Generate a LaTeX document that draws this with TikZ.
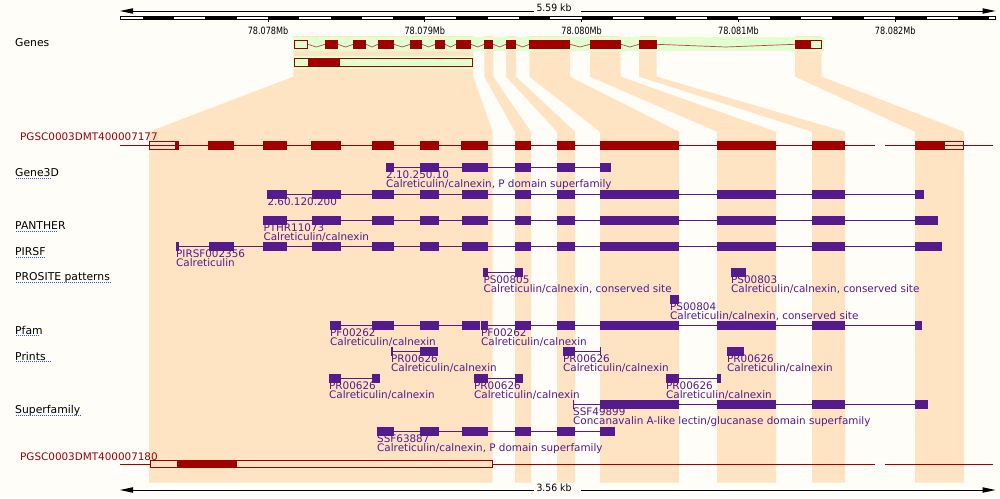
\documentclass[tikz,border=0pt]{standalone}
\usepackage{fontspec}
\usepackage{graphicx}
\setmainfont{DejaVu Sans}
\definecolor{bg}{RGB}{255,253,248}
\definecolor{peach}{RGB}{255,228,196}
\definecolor{lgreen}{RGB}{226,255,208}
\definecolor{dred}{RGB}{160,0,0}
\definecolor{hatred}{RGB}{190,70,70}
\definecolor{dpurple}{RGB}{85,26,139}
\definecolor{ulblue}{RGB}{50,90,220}
\newcommand\pcol[4]{\fill[peach] (#1,36) -- (#2,36) -- (#2,76.7) -- (#4,131.7) -- (#4,482.7) -- (#3,482.7) -- (#3,131.7) -- (#1,76.7) -- cycle;}
\newcommand\domrow[4]{\draw[domline] (#2,#1) -- (#3,#1);
  \foreach \a/\b in {#4} {\fill[dpurple] (\a,#1-4.3) rectangle (\b,#1+4.3);}}
\newcommand\domlab[5]{\node[dlab] (#1a) at (#2,#3+11) {#4};
  \node[dlab] (#1b) at (#2,#3+20) {#5};}
\begin{document}
\begin{tikzpicture}[x=1pt,y=-1pt,
  domline/.style={draw=dpurple,line width=1pt},
  dlab/.style={anchor=base west,inner sep=0pt,text=dpurple,font=\fontsize{10.4}{12}\selectfont},
  tlab/.style={anchor=base west,inner sep=0pt,text=black,font=\fontsize{10.8}{12}\selectfont},
  rlab/.style={anchor=base west,inner sep=0pt,text=dred,font=\fontsize{10.4}{12}\selectfont},
  mblab/.style={anchor=base,inner sep=0pt,font=\fontsize{10}{12}\selectfont},
  kblab/.style={anchor=base,inner sep=0pt,font=\fontsize{10}{12}\selectfont},
  uline/.style={draw=ulblue,line width=0.8pt,dash pattern=on 1pt off 1pt},
  hat/.style={draw=hatred,line width=0.7pt},
  exo/.style={fill=dred},
  utr/.style={draw=dred,line width=1pt},
  trline/.style={draw=dred,line width=1pt}]
\useasboundingbox (0,0) rectangle (1000,498);
\fill[bg] (0,0) rectangle (1000,498);
% peach columns
\pcol{293.3}{473.3}{149}{492.7}
\pcol{484.3}{493.3}{515}{531}
\pcol{506}{516}{557}{575}
\pcol{529.3}{570}{600}{679}
\pcol{590}{620.7}{717}{776}
\pcol{639}{656.7}{812}{845}
\pcol{795}{821.7}{915}{964}
% green bands
\fill[lgreen] (293.3,37.3) rectangle (824,50.7);
\fill[lgreen] (293.3,56) rectangle (474.3,68.7);
% top ruler
\node[kblab] (kbtop) at (554,11.7) {\scalebox{0.93}[1]{5.59 kb}};
\coordinate (tl) at (120,11); \coordinate (tr) at (995.5,11);
\draw[line width=1pt] (133,11) -- (534,11);
\draw[line width=1pt] (581,11) -- (983,11);
\fill (tl) -- (133,8.2) -- (133,13.8) -- cycle;
\fill (tr) -- (982.5,8.2) -- (982.5,13.8) -- cycle;
\draw[line width=0.8pt,fill=white] (120,16) rectangle (995,19.5);
\foreach \k in {-4,-2,0,2,4,6,8,10,12,14,16,18,20,22} {
  \fill ({268+\k*31.36},16) rectangle ({min(268+(\k+1)*31.36,995)},19.5);}
\foreach \k/\t in {0/78.078Mb,1/78.079Mb,2/78.080Mb,3/78.081Mb,4/78.082Mb} {
  \draw[line width=0.8pt] ({268+\k*156.8},19.5) -- ({268+\k*156.8},21.5);
  \node[mblab] (mb\k) at ({268+\k*156.8},34.3) {\scalebox{0.81}[1]{\t}};}
% Genes track
\node[tlab] (lgenes) at (15,46) {Genes};
\foreach \a/\b in {307.7/325,337.7/353.3,366/378,394/410.3,422/435.3,445/456,471/484.3,493.3/506,516/529.3,570/590,620.7/639,656.7/795}
  {\draw[hat] (\a,44.3) -- ({(\a+\b)/2},47) -- (\b,44.3);}
\foreach \a/\b in {325/337.7,353.3/366,378/394,410.3/422,435.3/445,456/471,484.3/493.3,506/516,529.3/570,590/620.7,639/656.7,795/810.7}
  {\fill[exo] (\a,40) rectangle (\b,48.7);}
\draw[utr] (294.3,40.5) rectangle (307.7,48.2);
\draw[utr] (810.7,40.5) rectangle (821.2,48.2);
\draw[utr] (294.3,58.3) rectangle (472.7,66.7);
\fill[exo] (308.3,58.3) rectangle (340,66.7);
% transcript 1
\node[rlab] (t1) at (20,140.7) {PGSC0003DMT400007177};
\draw[trline] (120,145) -- (875,145);
\draw[trline] (885,145) -- (993.3,145);
\foreach \a/\b in {175.7/179,208.3/234,263.3/286.7,311/340.7,372/394,420/439,461/488,515/531,557/575,600/679,717/776,812/845,915/944}
  {\fill[exo] (\a,140.7) rectangle (\b,149.7);}
\draw[utr] (149.5,141.2) rectangle (175.7,149.2);
\draw[utr] (944,141.2) rectangle (963.3,149.2);
% track labels
\node[tlab] (lg3d) at (15,176.7) {Gene3D};
\draw[uline] (15.7,178.3) -- (51,178.3);
\node[tlab] (lpan) at (15,229.3) {PANTHER};
\draw[uline] (15.7,231) -- (57.3,231);
\node[tlab] (lpir) at (15,255.3) {PIRSF};
\draw[uline] (15.7,257) -- (45,257);
\node[tlab] (lpro) at (15,280.7) {PROSITE patterns};
\draw[uline] (15.7,282.3) -- (111,282.3);
\node[tlab] (lpf) at (15,334) {Pfam};
\draw[uline] (15.7,335.7) -- (39,335.7);
\node[tlab] (lpr) at (15,360) {Prints};
\draw[uline] (15.7,361.7) -- (51,361.7);
\node[tlab] (lsf) at (15,413.3) {Superfamily};
\draw[uline] (15.7,415) -- (81,415);
% Gene3D
\domrow{167.3}{386}{611}{386/394,420/439,462/488,515/531,557/575,600/611}
\domlab{g3a}{386}{167.3}{2.10.250.10}{Calreticulin/calnexin, P domain superfamily}
\domrow{194.3}{267.3}{924}{267.3/286.7,312/340.7,372/394,420/439,462/488,515/531,557/575,600/679,717/776,812/845,915/924}
\node[dlab] (g3ba) at (267.3,205.3) {2.60.120.200};
% PANTHER
\domrow{220.3}{263.3}{937.7}{263.3/286.7,312/340.7,372/394,420/439,462/488,515/531,557/575,600/679,717/776,812/845,915/937.7}
\domlab{pan}{263.3}{220.3}{PTHR11073}{Calreticulin/calnexin}
% PIRSF
\domrow{246.3}{176}{942}{176/178.7,209/234,263/287,312/341,372/394,420/439,462/488,515/531,557/575,600/679,717/776,812/845,915/942}
\domlab{pir}{176}{246.3}{PIRSF002356}{Calreticulin}
% PROSITE
\domrow{272.3}{483.3}{523}{483.3/488,515/523}
\domlab{ps5}{483.3}{272.3}{PS00805}{Calreticulin/calnexin, conserved site}
\domrow{272.3}{731}{746}{731/746}
\domlab{ps3}{731}{272.3}{PS00803}{Calreticulin/calnexin, conserved site}
\domrow{299.3}{670}{679}{670/679}
\domlab{ps4}{670}{299.3}{PS00804}{Calreticulin/calnexin, conserved site}
% Pfam
\domrow{325.3}{330}{480}{330/341,372/394,420/439,462/480}
\domlab{pfa}{330}{325.3}{PF00262}{Calreticulin/calnexin}
\domrow{325.3}{481}{922}{481/488,515/531,557/575,600/679,717/776,812/845,915/922}
\domlab{pfb}{481}{325.3}{PF00262}{Calreticulin/calnexin}
% Prints
\domrow{351.5}{391}{437.7}{391/393.3,420/437.7}
\domlab{pra}{391}{351.5}{PR00626}{Calreticulin/calnexin}
\domrow{351.5}{563}{601.3}{563/575,600/601.3}
\domlab{prb}{563}{351.5}{PR00626}{Calreticulin/calnexin}
\domrow{351.5}{727}{744}{727/744}
\domlab{prc}{727}{351.5}{PR00626}{Calreticulin/calnexin}
\domrow{378.3}{329}{380}{329/341,372/380}
\domlab{prd}{329}{378.3}{PR00626}{Calreticulin/calnexin}
\domrow{378.3}{474}{523}{474/488,515/523}
\domlab{pre}{474}{378.3}{PR00626}{Calreticulin/calnexin}
\domrow{378.3}{666}{720.7}{666/679,717/720.7}
\domlab{prf}{666}{378.3}{PR00626}{Calreticulin/calnexin}
% Superfamily
\domrow{404.3}{573}{928}{573/574.3,600/679,717/776,812/845,915/928}
\domlab{sfa}{573}{404.3}{SSF49899}{Concanavalin A-like lectin/glucanase domain superfamily}
\domrow{431.3}{377}{615}{377/394,420/439,462/488,515/531,557/575,600/615}
\domlab{sfb}{377}{431.3}{SSF63887}{Calreticulin/calnexin, P domain superfamily}
% transcript 2
\node[rlab] (t2) at (20,460) {PGSC0003DMT400007180};
\draw[trline] (120,464.3) -- (875,464.3);
\draw[trline] (885,464.3) -- (993.3,464.3);
\fill[peach] (150.8,460.8) rectangle (492.2,467.8);
\fill[exo] (177,460.3) rectangle (237,468.3);
\draw[utr] (150.8,460.8) rectangle (492.2,467.8);
% bottom ruler
\node[kblab] (kbbot) at (554,491.7) {\scalebox{0.93}[1]{3.56 kb}};
\coordinate (bl) at (120,490); \coordinate (br) at (995.5,490);
\draw[line width=1pt] (133,490) -- (534,490);
\draw[line width=1pt] (581,490) -- (983,490);
\fill (bl) -- (133,487.2) -- (133,492.8) -- cycle;
\fill (br) -- (982.5,487.2) -- (982.5,492.8) -- cycle;
\end{tikzpicture}
\end{document}
